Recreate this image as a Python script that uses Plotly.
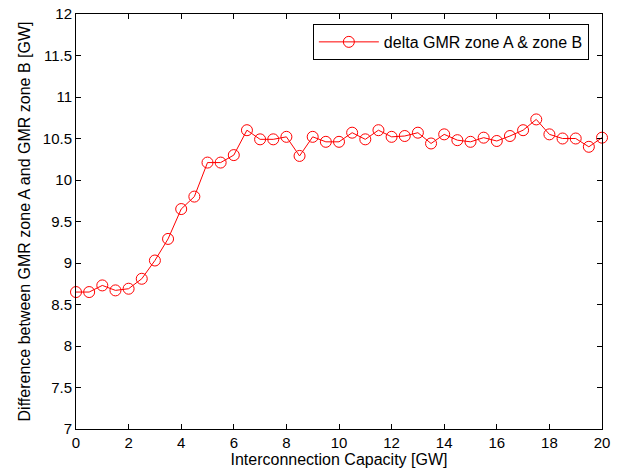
import plotly.graph_objects as go

capacity = [i * 0.5 for i in range(41)]
delta_gmr = [8.65, 8.65, 8.73, 8.67, 8.69, 8.81, 9.03, 9.29, 9.65, 9.80,
             10.21, 10.21, 10.30, 10.60, 10.49, 10.49, 10.52, 10.29, 10.52, 10.46,
             10.46, 10.57, 10.49, 10.60, 10.52, 10.53, 10.57, 10.44, 10.55, 10.48,
             10.46, 10.51, 10.47, 10.53, 10.60, 10.73, 10.55, 10.50, 10.50, 10.40,
             10.51]
x_ticks = list(range(0, 21, 2))
y_ticks = [7 + 0.5 * i for i in range(11)]
y_tick_labels = [("%g" % v) for v in y_ticks]

FONT = "Liberation Sans, Arial, sans-serif"

fig = go.Figure()
fig.add_trace(go.Scatter(
    x=capacity, y=delta_gmr, mode="lines+markers",
    name="delta GMR zone A & zone B",
    line=dict(color="#ff0000", width=1),
    marker=dict(symbol="circle-open", size=11, color="#ff0000", line=dict(width=1)),
    cliponaxis=False,
))

axis_common = dict(
    showgrid=False, zeroline=False, showline=True, linecolor="black", linewidth=1,
    mirror="ticks", ticks="inside", ticklen=5, tickcolor="black", automargin=False,
    tickfont=dict(family=FONT, size=15, color="black"),
)
fig.update_xaxes(range=[0, 20], tickvals=x_ticks,
                 title=dict(text="Interconnection Capacity [GW]", standoff=3,
                            font=dict(family=FONT, size=16, color="black")),
                 **axis_common)
fig.update_yaxes(range=[7, 12], tickvals=y_ticks, ticktext=y_tick_labels,
                 title=dict(text="Difference between GMR zone A and GMR zone B [GW]", standoff=8,
                            font=dict(family=FONT, size=16, color="black")),
                 **axis_common)
fig.update_layout(
    width=619, height=474,
    margin=dict(l=76, r=17, t=14, b=45),
    paper_bgcolor="white", plot_bgcolor="white",
    showlegend=True,
    legend=dict(x=0.975, y=0.976, xanchor="right", yanchor="top",
                bordercolor="black", borderwidth=1, bgcolor="white",
                itemwidth=60, tracegroupgap=0,
                font=dict(family=FONT, size=16, color="black")),
)
fig.write_html("out.html", config={"displayModeBar": False},
               post_script="document.body.style.margin='0';document.body.style.overflow='hidden';")
